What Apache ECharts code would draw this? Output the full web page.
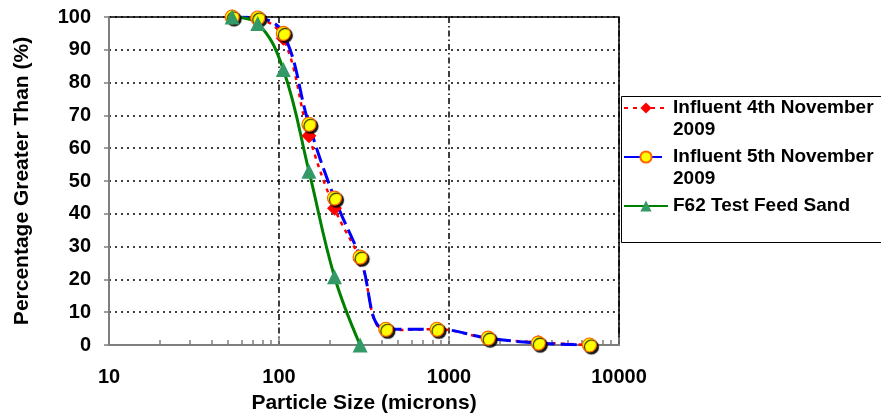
<!DOCTYPE html>
<html>
<head>
<meta charset="utf-8">
<script src="https://cdn.jsdelivr.net/npm/echarts@6/dist/echarts.min.js"></script>
<style>
  html, body { margin: 0; padding: 0; background: #fff; }
  #main { width: 881px; height: 419px; }
</style>
</head>
<body>
<div id="main"></div>
<script>
// sieve sizes (microns) and percentage retained
var sizes = [53, 75, 106, 150, 212, 300, 425, 850, 1700, 3350, 6700];
var influent4 = [100, 99.5, 93.5, 63.8, 41.7, 26, 4.5, 4.8, 2, 0.8, 0];
var influent5 = [100, 99.7, 95, 67.3, 44.8, 26.8, 4.8, 4.8, 2.1, 0.6, 0];
var feedSizes = [53, 75, 106, 150, 212, 300];
var feedSand = [100, 98, 84, 53, 20.8, 0];
var minorTicks = [20, 30, 40, 50, 60, 70, 80, 90, 200, 300, 400, 500, 600, 700, 800, 900,
  2000, 3000, 4000, 5000, 6000, 7000, 8000, 9000];

var names = ['Influent 4th November 2009', 'Influent 5th November 2009', 'F62 Test Feed Sand'];

function pairs(xs, ys) {
  return xs.map(function (x, i) { return [x, ys[i]]; });
}

var font = 'Liberation Sans, Arial, sans-serif';
var axisGray = '#7f7f7f';

// two-line names get an empty first line so the icon sits beside the first text line
function legendAt(name, top) {
  return {
    data: [name],
    left: 623,
    top: top,
    padding: 0,
    orient: 'vertical',
    itemWidth: 44,
    itemHeight: 14,
    itemGap: 0,
    selectedMode: false,
    formatter: function (n) {
      return n.indexOf(' 2009') > -1 ? '\n' + n.replace(' 2009', '\n2009') : n;
    },
    textStyle: {
      fontFamily: font, fontSize: 19, fontWeight: 'bold', color: '#000', lineHeight: 22
    }
  };
}

var myChart = echarts.init(document.getElementById('main'));
myChart.setOption({
  animation: false,
  backgroundColor: '#fff',
  grid: {
    left: 109, right: 262, top: 17, bottom: 70,
    show: true, borderColor: '#000', borderWidth: 1.5, backgroundColor: '#fff'
  },
  legend: [
    legendAt(names[0], 75),
    legendAt(names[1], 124),
    legendAt(names[2], 195)
  ],
  graphic: [{
    type: 'rect',
    left: 619, top: 94,
    shape: { width: 280, height: 146 },
    style: { fill: 'none', stroke: '#000', lineWidth: 1 },
    silent: true
  }],
  xAxis: [{
    type: 'log',
    logBase: 10,
    min: 10,
    max: 10000,
    name: 'Particle Size (microns)',
    nameLocation: 'middle',
    nameGap: 48,
    nameTextStyle: { fontFamily: font, fontSize: 21, fontWeight: 'bold', color: '#000' },
    axisLine: { lineStyle: { color: axisGray, width: 2 } },
    axisTick: { show: true, inside: true, length: 8, lineStyle: { color: axisGray, width: 1.5 } },
    axisLabel: {
      margin: 22,
      fontFamily: font, fontSize: 20, fontWeight: 'bold', color: '#000',
      formatter: function (v) { return String(Math.round(v)); }
    },
    splitLine: {
      show: true,
      lineStyle: { color: '#000', width: 1.5, type: [6, 3, 1.5, 3] }
    }
  }, {
    // minor ticks only
    type: 'log',
    logBase: 10,
    min: 10,
    max: 10000,
    position: 'bottom',
    axisLine: { show: false },
    axisLabel: { show: false },
    splitLine: { show: false },
    axisTick: {
      show: true, inside: true, length: 5,
      customValues: minorTicks,
      lineStyle: { color: axisGray, width: 1.5 }
    }
  }],
  yAxis: {
    type: 'value',
    min: 0,
    max: 100,
    interval: 10,
    name: 'Percentage Greater Than (%)',
    nameLocation: 'middle',
    nameGap: 76,
    nameTextStyle: { fontFamily: font, fontSize: 21, fontWeight: 'bold', color: '#000' },
    axisLine: { show: true, lineStyle: { color: axisGray, width: 2 } },
    axisTick: { show: true, inside: false, length: 5, lineStyle: { color: axisGray, width: 1.5 } },
    axisLabel: { margin: 18, fontFamily: font, fontSize: 20, fontWeight: 'bold', color: '#000' },
    splitLine: { show: true, lineStyle: { color: '#000', width: 1.5, type: [2, 4] } }
  },
  series: [{
    name: names[0],
    type: 'line',
    data: pairs(sizes, influent4),
    smooth: 0.4,
    symbol: 'diamond',
    symbolSize: 15,
    showAllSymbol: true,
    lineStyle: { color: '#ff0000', width: 2.5, type: [4, 5] },
    itemStyle: { color: '#ff0000' }
  }, {
    name: names[1],
    type: 'line',
    data: pairs(sizes, influent5),
    smooth: 0.4,
    symbol: 'circle',
    symbolSize: 14,
    showAllSymbol: true,
    lineStyle: { color: '#0000ff', width: 3, type: [16, 6] },
    itemStyle: {
      color: '#ffff00', borderColor: '#ff6600', borderWidth: 1.2,
      shadowColor: 'rgba(0,0,0,0.9)', shadowOffsetX: 2, shadowOffsetY: 2, shadowBlur: 1
    }
  }, {
    name: names[2],
    type: 'line',
    data: pairs(feedSizes, feedSand),
    smooth: 0.4,
    symbol: 'triangle',
    symbolSize: 15,
    showAllSymbol: true,
    lineStyle: { color: '#008000', width: 3 },
    itemStyle: { color: '#339966' }
  }]
});
</script>
</body>
</html>
